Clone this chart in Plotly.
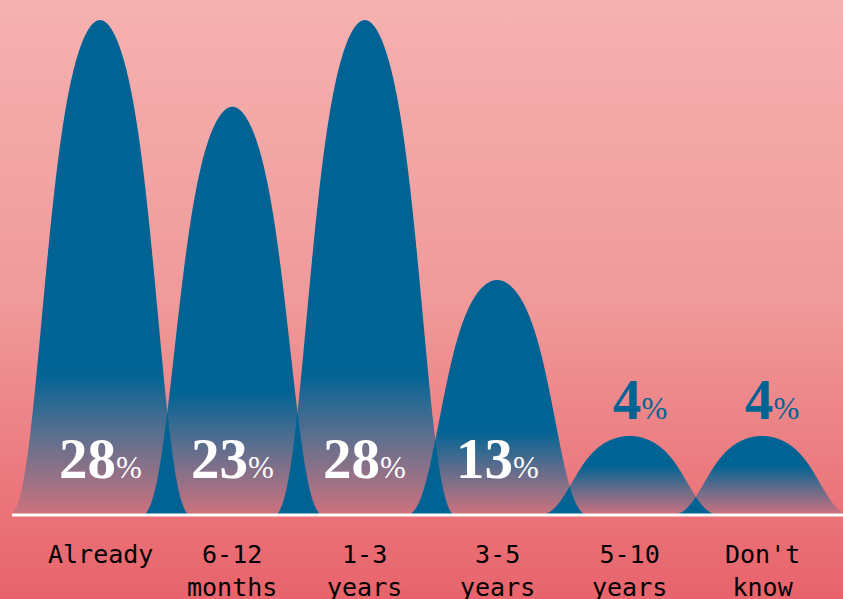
import numpy as np
import plotly.graph_objects as go

# ---- data ----
categories = ["Already", "6-12<br>months", "1-3<br>years", "3-5<br>years", "5-10<br>years", "Don't<br>know"]
values = [28, 23, 28, 13, 4, 4]

# ---- style ----
BLUE = "rgb(0,99,148)"
BG_BOTTOM = "#e8636b"
BG_MID = "#f09a9a"
BG_TOP = "#f5b1b0"
PEAK_PAD = 0.56          # extra height at the crest of each bell
SHAPE_A, SHAPE_B, SHAPE_Q, HALF_W = 0.642, 0.519, 5.0, 0.665
X_RANGE = [-0.7553, 5.6118]
Y_RANGE = [-4.85, 29.72]
INSIDE_MIN = 10          # values >= this get their label inside the bell


def bell(xs, c, h):
    d = np.abs(xs - c)
    prof = lambda t: np.exp(-(t / SHAPE_A) ** 2 - (t / SHAPE_B) ** SHAPE_Q)
    g = prof(d)
    gw = prof(HALF_W)
    return np.clip((g - gw) / (1 - gw), 0, None) * h


fig = go.Figure()

# background gradient
fig.add_trace(go.Scatter(
    x=[X_RANGE[0], X_RANGE[1], X_RANGE[1], X_RANGE[0], X_RANGE[0]],
    y=[Y_RANGE[0], Y_RANGE[0], Y_RANGE[1], Y_RANGE[1], Y_RANGE[0]],
    mode="none", fill="toself",
    fillgradient=dict(type="vertical", start=Y_RANGE[0], stop=Y_RANGE[1],
                      colorscale=[[0, BG_BOTTOM], [0.5, BG_MID], [1, BG_TOP]]),
    hoverinfo="skip", showlegend=False))

centers = list(range(len(values)))

# bells
for c, v in zip(centers, values):
    xs = np.linspace(c - HALF_W, c + HALF_W, 400)
    ys = bell(xs, c, v + PEAK_PAD)
    stop = 2 + 0.22 * v
    fig.add_trace(go.Scatter(
        x=xs, y=ys, mode="none", fill="tozeroy",
        fillgradient=dict(type="vertical", start=0, stop=stop,
                          colorscale=[[0, "rgba(0,99,148,0.12)"], [1, "rgba(0,99,148,1)"]]),
        hoverinfo="skip", showlegend=False))

# overlaps between neighbouring bells are solid
for i in range(len(values) - 1):
    c1, c2 = centers[i], centers[i + 1]
    xs = np.linspace(c2 - HALF_W, c1 + HALF_W, 200)
    ys = np.minimum(bell(xs, c1, values[i] + PEAK_PAD), bell(xs, c2, values[i + 1] + PEAK_PAD))
    fig.add_trace(go.Scatter(
        x=xs, y=ys, mode="none", fill="tozeroy", fillcolor=BLUE,
        hoverinfo="skip", showlegend=False))

# baseline
fig.add_shape(type="line", xref="x", yref="y", x0=-HALF_W, x1=X_RANGE[1], y0=0, y1=0,
              line=dict(color="white", width=3))

# value labels
for c, v in zip(centers, values):
    txt = f"<b>{v}</b><span style='font-size:31px'>%</span>"
    if v >= INSIDE_MIN:
        fig.add_annotation(x=c, y=3.25, text=txt, showarrow=False, xanchor="center", yanchor="middle",
                           font=dict(family="Liberation Serif", size=57, color="white"))
    else:
        fig.add_annotation(x=c, y=v + PEAK_PAD, text=txt, showarrow=False, xanchor="center",
                           yanchor="bottom", xshift=10, yshift=3,
                           font=dict(family="Liberation Serif", size=57, color=BLUE))

# category labels
for c, lab in zip(centers, categories):
    fig.add_annotation(x=c, y=-1.35, text=lab, showarrow=False, xanchor="center", yanchor="top",
                       font=dict(family="DejaVu Sans Mono", size=25, color="black"))

fig.update_layout(
    width=843, height=599, margin=dict(l=0, r=0, t=0, b=0),
    paper_bgcolor=BG_BOTTOM, plot_bgcolor=BG_BOTTOM,
    xaxis=dict(range=X_RANGE, visible=False, fixedrange=True),
    yaxis=dict(range=Y_RANGE, visible=False, fixedrange=True),
    showlegend=False,
)

fig.write_html("out.html")
